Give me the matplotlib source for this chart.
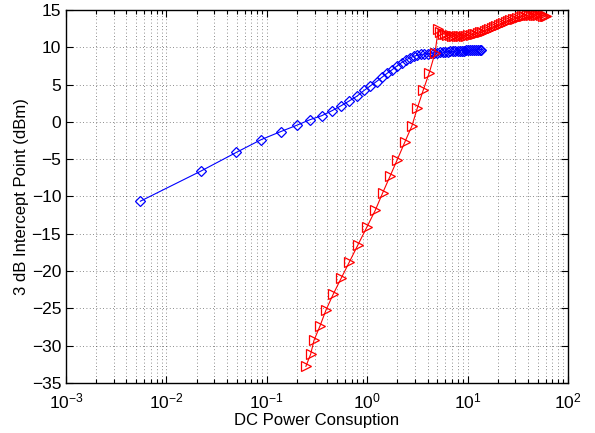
import matplotlib
matplotlib.use("Agg")
import matplotlib.pyplot as plt
from matplotlib.ticker import LogLocator, MultipleLocator, NullFormatter

plt.rcParams['font.family'] = ['Liberation Sans', 'DejaVu Sans']

# Blue trace: DC power (x) and 3 dB intercept point (dBm)
blue_power = [0.0055, 0.022, 0.0495, 0.088, 0.1375, 0.198, 0.2695, 0.352, 0.4455, 0.55,
              0.6655, 0.792, 0.9295, 1.078, 1.2375, 1.408, 1.5895, 1.782, 1.9855, 2.2,
              2.4255, 2.662, 2.9095, 3.168, 3.4375, 3.718, 4.0095, 4.312, 4.6255, 4.95,
              5.2855, 5.632, 5.9895, 6.358, 6.7375, 7.128, 7.5295, 7.942, 8.3655, 8.8,
              9.2455, 9.702, 10.1695, 10.648, 11.1375, 11.638, 12.1495, 12.672, 13.2055, 13.75]
blue_ip3 = [-10.63, -6.6, -4.1, -2.37, -1.3, -0.46, 0.3, 0.83, 1.5, 2.17,
            2.83, 3.46, 4.21, 4.84, 5.41, 6.0, 6.54, 7.02, 7.51, 7.95,
            8.3, 8.58, 8.8, 8.95, 9.05, 9.1, 9.15, 9.2, 9.24, 9.28,
            9.32, 9.35, 9.38, 9.41, 9.44, 9.46, 9.49, 9.51, 9.53, 9.55,
            9.57, 9.59, 9.6, 9.62, 9.63, 9.65, 9.66, 9.67, 9.68, 9.7]

# Red trace
red_power = [0.245, 0.273, 0.295, 0.339, 0.389, 0.46, 0.552, 0.664, 0.81, 0.989,
             1.205, 1.427, 1.687, 1.995, 2.364, 2.794, 3.157, 3.623, 4.16, 4.73,
             5.1, 5.35, 5.64, 5.95, 6.28, 6.63, 6.99, 7.38, 7.78, 8.21,
             8.66, 9.14, 9.64, 10.2, 10.7, 11.3, 11.9, 12.6, 13.3, 14.0,
             14.8, 15.6, 16.5, 17.4, 18.3, 19.3, 20.4, 21.5, 22.7, 23.9,
             25.2, 26.6, 28.1, 29.6, 31.3, 33.0, 34.8, 36.7, 38.7, 40.9,
             43.1, 45.5, 48.0, 50.6, 53.4, 56.4, 59.5, 61.0]
red_ip3 = [-32.77, -31.16, -29.29, -27.34, -25.2, -23.06, -20.92, -18.78, -16.46, -14.14,
           -11.83, -9.5, -7.29, -5.05, -2.74, -0.51, 1.86, 4.3, 6.62, 9.21,
           12.42, 12.0, 11.85, 11.75, 11.67, 11.6, 11.55, 11.52, 11.5, 11.5,
           11.5, 11.52, 11.55, 11.6, 11.65, 11.72, 11.8, 11.9, 12.0, 12.1,
           12.2, 12.32, 12.45, 12.58, 12.7, 12.83, 12.96, 13.1, 13.23, 13.36,
           13.5, 13.62, 13.75, 13.86, 13.97, 14.07, 14.15, 14.22, 14.28, 14.32,
           14.35, 14.36, 14.36, 14.34, 14.3, 14.25, 14.2, 14.17]

fig = plt.figure(figsize=(5.95, 4.33), dpi=100)
ax = fig.add_axes([0.111, 0.1155, 0.8436, 0.8614])

ax.plot(blue_power, blue_ip3, color=(0, 0, 1), marker='D', markersize=4.8,
        markerfacecolor='none', markeredgewidth=0.9, linewidth=0.8)
ax.plot(red_power, red_ip3, color=(1, 0, 0), marker='>', markersize=6.5,
        markerfacecolor='none', markeredgewidth=0.9, linewidth=0.8)

ax.set_xscale('log')
ax.set_xlim(1e-3, 1e2)
ax.set_ylim(-35, 15)
ax.yaxis.set_major_locator(MultipleLocator(5))
ax.xaxis.set_major_locator(LogLocator(base=10, numticks=10))
ax.xaxis.set_minor_locator(LogLocator(base=10, subs=range(2, 10), numticks=20))
ax.xaxis.set_minor_formatter(NullFormatter())

ax.grid(True, which='major', axis='both', linestyle=(0, (1, 3)), color='k',
        linewidth=0.6, alpha=0.6)
ax.grid(True, which='minor', axis='x', linestyle=(0, (1, 3)), color='k',
        linewidth=0.6, alpha=0.6)

ax.tick_params(which='both', direction='in', top=True, right=True, labelsize=12.5,
               width=0.8)
ax.tick_params(which='major', length=5)
ax.tick_params(which='minor', length=3)
ax.tick_params(axis='x', which='major', pad=6)
for s in ax.spines.values():
    s.set_linewidth(1.0)

ax.set_xlabel('DC Power Consuption', fontsize=12, labelpad=1)
ax.set_ylabel('3 dB Intercept Point (dBm)', fontsize=12, labelpad=2)

fig.savefig('out.png', dpi=100)
